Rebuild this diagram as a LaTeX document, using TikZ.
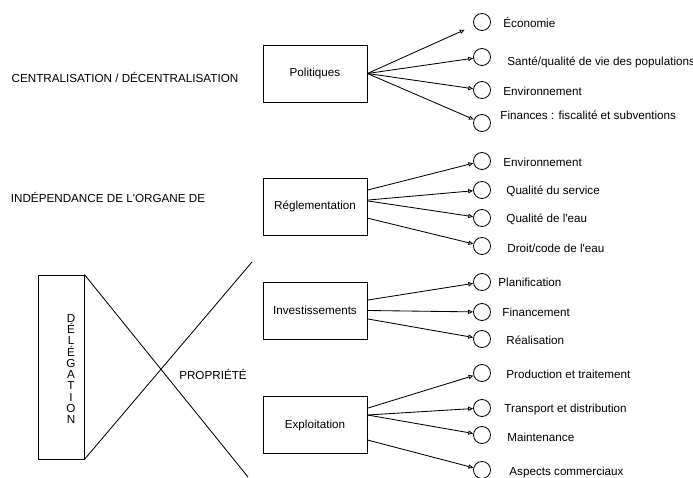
\documentclass[tikz,border=0pt]{standalone}
\usepackage{fontspec}
\setmainfont{Liberation Sans}
\usetikzlibrary{arrows.meta}

\begin{document}
\begin{tikzpicture}[x=0.025cm,y=-0.025cm,line width=0.6pt,
  font=\fontsize{8.3}{10}\selectfont,
  box/.style={draw,minimum width=2.6cm,minimum height=1.425cm,inner sep=0pt},
  pt/.style={draw,circle,minimum size=0.425cm,inner sep=0pt},
  lbl/.style={anchor=west,inner sep=0pt},
  arr/.style={-{Triangle[open,length=3.5pt,width=3pt]}}]
\useasboundingbox (0,0) rectangle (693,478);

% left side
\node (cen) at (125,78) {CENTRALISATION / DÉCENTRALISATION};
\node (ind) at (108,197) {INDÉPENDANCE DE L\textquotesingle ORGANE DE};
\node[draw,minimum width=1.15cm,minimum height=4.6cm,inner sep=0pt] (del) at (61,367) {};
\node[align=center,inner sep=0pt,font=\fontsize{8.3}{8}\selectfont] (deltxt) at (71,369) {D\\É\\L\\É\\G\\A\\T\\I\\O\\N};
\coordinate (xtop) at (252,262);
\coordinate (xbot) at (248,477);
\draw (del.north east) -- (xbot);
\draw (del.south east) -- (xtop);
\node (prop) at (213,374) {PROPRIÉTÉ};

% boxes
\node[box] (pol) at (315,73.5) {Politiques};
\node[box] (reg) at (315,206.5) {Réglementation};
\node[box] (inv) at (315,310.5) {Investissements};
\node[box] (exp) at (315,425) {Exploitation};

% politiques
\node[pt] (p1) at (482,22) {};
\node[pt] (p2) at (482,57) {};
\node[pt] (p3) at (482,90) {};
\node[pt] (p4) at (482,123) {};
\node[lbl] (lp1) at (503,23) {Économie};
\node[lbl] (lp2) at (507,62) {Santé/qualité de vie des populations};
\node[lbl] (lp3) at (503,91) {Environnement};
\node[lbl] (lp4) at (500,115) {Finances : fiscalité et subventions};
\draw[arr,shorten >=0.25cm] (pol.east) -- (p1);
\draw[arr] (pol.east) -- (p2);
\draw[arr] (pol.east) -- (p3);
\draw[arr] (pol.east) -- (p4);

% reglementation
\node[pt] (r1) at (482,161) {};
\node[pt] (r2) at (482,190) {};
\node[pt] (r3) at (482,218) {};
\node[pt] (r4) at (482,246) {};
\node[lbl] (lr1) at (503,162) {Environnement};
\node[lbl] (lr2) at (506,191) {Qualité du service};
\node[lbl] (lr3) at (506,219) {Qualité de l\textquotesingle eau};
\node[lbl] (lr4) at (507,248) {Droit/code de l\textquotesingle eau};
\draw[arr] ([yshift=0.41cm]reg.east) -- (r1);
\draw[arr] ([yshift=0.16cm]reg.east) -- (r2);
\draw[arr] ([yshift=0.14cm]reg.east) -- (r3);
\draw[arr] ([yshift=-0.29cm]reg.east) -- (r4);

% investissements
\node[pt] (i1) at (482,282) {};
\node[pt] (i2) at (482,312) {};
\node[pt] (i3) at (482,339) {};
\node[lbl] (li1) at (498,282) {Planification};
\node[lbl] (li2) at (502,312) {Financement};
\node[lbl] (li3) at (506,340) {Réalisation};
\draw[arr] ([yshift=0.26cm]inv.east) -- (i1);
\draw[arr] (inv.east) -- (i2);
\draw[arr] ([yshift=-0.21cm]inv.east) -- (i3);

% exploitation
\node[pt] (e1) at (482,373) {};
\node[pt] (e2) at (482,408) {};
\node[pt] (e3) at (482,435) {};
\node[pt] (e4) at (482,470) {};
\node[lbl] (le1) at (506,374) {Production et traitement};
\node[lbl] (le2) at (504,409) {Transport et distribution};
\node[lbl] (le3) at (507,437) {Maintenance};
\node[lbl] (le4) at (509,472) {Aspects commerciaux};
\draw[arr] ([yshift=0.42cm]exp.east) -- (e1);
\draw[arr] ([yshift=0.25cm]exp.east) -- (e2);
\draw[arr] ([yshift=0.25cm]exp.east) -- (e3);
\draw[arr] ([yshift=-0.375cm]exp.east) -- (e4);
\end{tikzpicture}
\end{document}
